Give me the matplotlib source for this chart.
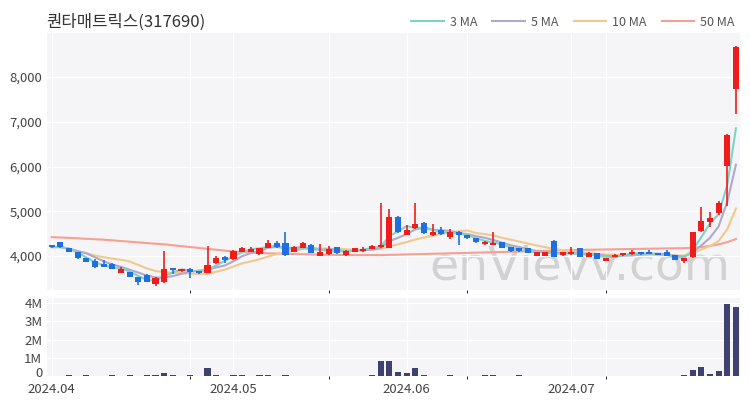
import numpy as np
import pandas as pd
import matplotlib.pyplot as plt
import matplotlib.transforms as mtransforms
from matplotlib.lines import Line2D

plt.rcParams['font.family'] = ['Noto Sans CJK KR', 'DejaVu Sans']

# daily candles (2024.04.01 ~ 2024.07.26)
opens = [4240, 4310, 4180, 4090, 3950, 3890, 3830, 3830, 3630, 3640,
         3530, 3580, 3380, 3430, 3730, 3670, 3720, 3660, 3630, 3850,
         3980, 3940, 4100, 4100, 4050, 4190, 4290, 4300, 4100, 4180,
         4250, 4000, 4050, 4200, 4020, 4090, 4110, 4160, 4200, 4190,
         4880, 4480, 4630, 4730, 4470, 4580, 4430, 4530, 4470, 4400,
         4270, 4250, 4310, 4200, 4170, 4180, 4000, 4000, 4340, 4020,
         4040, 4180, 3980, 4060, 3890, 3980, 4020, 4040, 4090, 4100,
         4060, 4080, 4020, 3880, 3980, 4560, 4770, 4970, 6010, 7740]
closes = [4200, 4200, 4090, 3950, 3870, 3750, 3760, 3720, 3700, 3540,
          3430, 3420, 3500, 3720, 3680, 3700, 3650, 3620, 3800, 3950,
          3920, 4120, 4190, 4150, 4170, 4300, 4210, 4030, 4200, 4280,
          4070, 4090, 4150, 4070, 4110, 4170, 4150, 4220, 4240, 4880,
          4540, 4590, 4720, 4520, 4540, 4500, 4530, 4480, 4400, 4310,
          4310, 4290, 4180, 4110, 4110, 4070, 4090, 4090, 3980, 4090,
          4090, 3980, 4060, 3940, 3950, 4030, 4060, 4080, 4040, 4050,
          4030, 4000, 3910, 3950, 4530, 4780, 4860, 5180, 6700, 8680]
highs = [4250, 4320, 4190, 4100, 3960, 3940, 3910, 3850, 3760, 3650,
         3540, 3590, 3520, 4110, 3740, 3720, 3730, 3670, 4220, 4000,
         3990, 4130, 4210, 4200, 4190, 4350, 4330, 4540, 4220, 4320,
         4260, 4270, 4220, 4210, 4130, 4180, 4200, 4240, 5190, 5050,
         4900, 4700, 5190, 4750, 4720, 4650, 4600, 4550, 4480, 4410,
         4330, 4540, 4320, 4210, 4180, 4190, 4100, 4100, 4350, 4100,
         4200, 4190, 4080, 4070, 3960, 4040, 4070, 4140, 4100, 4140,
         4070, 4130, 4030, 3960, 4540, 5100, 4980, 5230, 6720, 8700]
lows = [4190, 4190, 4080, 3940, 3860, 3740, 3750, 3700, 3610, 3520,
        3350, 3410, 3340, 3400, 3600, 3650, 3510, 3600, 3610, 3830,
        3850, 3920, 4080, 4090, 4030, 4170, 4190, 4010, 4090, 4170,
        4060, 3990, 4030, 4050, 4000, 4080, 4100, 4150, 4190, 4170,
        4520, 4460, 4610, 4500, 4450, 4480, 4380, 4250, 4390, 4300,
        4250, 4240, 4170, 4100, 4100, 4060, 3990, 3990, 3970, 4010,
        4030, 3970, 3970, 3930, 3880, 3970, 4010, 4030, 4030, 4040,
        4020, 3990, 3900, 3840, 3950, 4540, 4650, 4920, 5120, 7180]
volumes = [0.02, 0.02, 0.03, 0.02, 0.03, 0.02, 0.02, 0.03, 0.02, 0.03,
           0.02, 0.03, 0.04, 0.18, 0.03, 0.02, 0.03, 0.02, 0.42, 0.05,
           0.02, 0.03, 0.03, 0.02, 0.03, 0.03, 0.02, 0.04, 0.02, 0.02,
           0.02, 0.02, 0.02, 0.02, 0.02, 0.02, 0.02, 0.03, 0.80, 0.82,
           0.20, 0.15, 0.43, 0.05, 0.02, 0.02, 0.04, 0.02, 0.02, 0.02,
           0.05, 0.03, 0.02, 0.02, 0.03, 0.02, 0.02, 0.02, 0.02, 0.02,
           0.02, 0.02, 0.02, 0.02, 0.02, 0.02, 0.02, 0.02, 0.02, 0.02,
           0.02, 0.02, 0.02, 0.03, 0.32, 0.52, 0.10, 0.25, 3.93, 3.76]  # millions
# 50 MA needs history before the window, so it is read off the chart
ma50 = [4420, 4415, 4405, 4395, 4385, 4375, 4365, 4350, 4335, 4320,
        4305, 4290, 4275, 4260, 4240, 4220, 4200, 4180, 4160, 4140,
        4120, 4100, 4090, 4080, 4070, 4060, 4055, 4050, 4045, 4040,
        4035, 4030, 4028, 4025, 4022, 4020, 4020, 4020, 4020, 4025,
        4030, 4035, 4040, 4045, 4050, 4055, 4060, 4065, 4070, 4075,
        4080, 4085, 4090, 4095, 4100, 4105, 4110, 4115, 4120, 4125,
        4130, 4135, 4140, 4143, 4146, 4150, 4153, 4156, 4160, 4163,
        4166, 4170, 4172, 4175, 4185, 4200, 4225, 4260, 4310, 4380]

month_labels = ['2024.04', '2024.05', '2024.06', '2024.07']
month_idx = [0, 21, 41, 60]   # first trading day of each month

df = pd.DataFrame({'o': opens, 'h': highs, 'l': lows, 'c': closes, 'v': volumes})
x = np.arange(len(df))
ma_cols = {'3 MA': '#7fd3c6', '5 MA': '#b3a7cb', '10 MA': '#f0c98c', '50 MA': '#f5a090'}
df['ma3'] = df['c'].rolling(3, min_periods=1).mean()
df['ma5'] = df['c'].rolling(5, min_periods=1).mean()
df['ma10'] = df['c'].rolling(10, min_periods=1).mean()
df['ma50'] = ma50

up_col, dn_col = '#f01c1c', '#1f6fe0'
bg = '#f5f5f7'

fig = plt.figure(figsize=(7.5, 4), dpi=100)
ax = fig.add_axes([0.063, 0.275, 0.924, 0.643])
axv = fig.add_axes([0.063, 0.06, 0.924, 0.195], sharex=ax)

for a in (ax, axv):
    a.set_facecolor(bg)
    for s in a.spines.values():
        s.set_visible(False)
    a.tick_params(length=0, labelsize=9.5, labelcolor='#444')
    a.set_xticks([16, 32, 48, 64], minor=True)
    a.grid(True, which='both', color='white', lw=1)
    a.set_axisbelow(True)

# watermark
ax.text(0.985, 0.0, 'enVievv.com', transform=ax.transAxes, ha='right', va='bottom',
        fontsize=34, color='#d2d2d2', family='DejaVu Sans', zorder=0)

# moving averages
ax.plot(x, df['ma50'], color=ma_cols['50 MA'], lw=1.5, zorder=2)
ax.plot(x, df['ma10'], color=ma_cols['10 MA'], lw=1.5, zorder=2)
ax.plot(x, df['ma5'], color=ma_cols['5 MA'], lw=1.5, zorder=2)
ax.plot(x, df['ma3'], color=ma_cols['3 MA'], lw=1.5, zorder=2)

# candles
colors = np.where(df['c'] >= df['o'], up_col, dn_col)
ax.vlines(x, df['l'], df['h'], color=colors, lw=1.2, zorder=3)
body_bottom = np.minimum(df['o'], df['c'])
body_h = np.maximum(np.abs(df['c'] - df['o']), 15)
ax.bar(x, body_h, bottom=body_bottom, width=0.7, color=colors, zorder=4)

ax.set_xlim(-0.5, len(df) - 0.5)
ax.set_ylim(3240, 8990)
ax.set_yticks([4000, 5000, 6000, 7000, 8000])
ax.yaxis.set_major_formatter(plt.FuncFormatter(lambda v, p: f'{int(v):,}'))
ax.tick_params(axis='x', labelbottom=False)

# volume
axv.bar(x, df['v'], width=0.7, color='#3f4170', zorder=3)
axv.set_ylim(0, 4.28)
axv.set_yticks([0, 1, 2, 3, 4])
axv.set_yticklabels(['0', '1M', '2M', '3M', '4M'])
zero_lbl = axv.get_yticklabels()[0]
zero_lbl.set_transform(zero_lbl.get_transform() +
                       mtransforms.ScaledTranslation(0, 3 / 72, fig.dpi_scale_trans))
axv.set_xticks(month_idx)
axv.set_xticklabels(month_labels)
axv.tick_params(axis='x', pad=5)

fig.text(0.062, 0.945, '퀀타매트릭스(317690)', fontsize=12, color='#333', va='center')
handles = [Line2D([], [], color=c, lw=1.5) for c in ma_cols.values()]
fig.legend(handles, list(ma_cols.keys()), loc='center right', bbox_to_anchor=(0.995, 0.945),
           ncol=4, frameon=False, fontsize=9, handlelength=2.6, columnspacing=1.2,
           handletextpad=0.5, labelcolor='#555')

fig.savefig('out.png', dpi=100)
